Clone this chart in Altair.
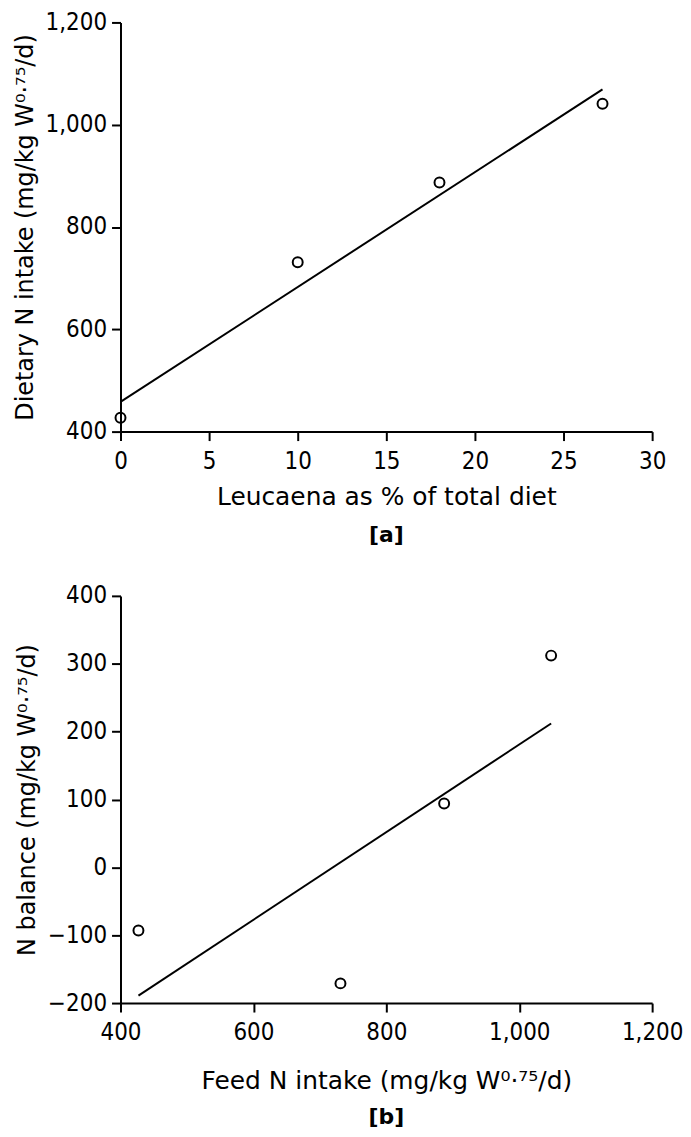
import altair as alt
import pandas as pd

# Panel (a): Leucaena % vs dietary N intake
leucaena_pct = [0, 10, 18, 27.2]
dietary_n = [427, 731, 887, 1041]
fit_a_x = [0, 27.2]
fit_a_y = [458, 1069]

# Panel (b): feed N intake vs N balance
feed_n = [427, 731, 887, 1048]
n_balance = [-93, -171, 94, 312]
fit_b_x = [427, 1048]
fit_b_y = [-189, 212]

pts_a = pd.DataFrame({"x": leucaena_pct, "y": dietary_n})
line_a = pd.DataFrame({"x": fit_a_x, "y": fit_a_y})
pts_b = pd.DataFrame({"x": feed_n, "y": n_balance})
line_b = pd.DataFrame({"x": fit_b_x, "y": fit_b_y})

TFONT = "DejaVu Sans"
LFONT = "Liberation Sans Narrow, DejaVu Sans Condensed, Liberation Sans"
SUP = "W\u2070\u00b7\u2077\u2075"

xa = alt.X("x:Q", scale=alt.Scale(domain=[0, 30], nice=False),
           axis=alt.Axis(title="Leucaena as % of total diet", values=[0, 5, 10, 15, 20, 25, 30],
                         format="d", grid=False, titlePadding=11, labelPadding=9, labelFlush=False))
ya = alt.Y("y:Q", scale=alt.Scale(domain=[400, 1200], nice=False, zero=False),
           axis=alt.Axis(title=f"Dietary N intake (mg/kg {SUP}/d)", values=[400, 600, 800, 1000, 1200],
                         format=",d", grid=False, titlePadding=8, titleFontSize=24, labelPadding=5))

panel_a = alt.layer(
    alt.Chart(line_a).mark_line(color="black", strokeWidth=2).encode(x=xa, y=ya),
    alt.Chart(pts_a).mark_point(shape="circle", filled=False, color="black", size=100, strokeWidth=2, opacity=1).encode(x="x:Q", y="y:Q"),
).properties(width=534, height=411,
             title=alt.TitleParams("[a]", orient="bottom", fontSize=22, font=TFONT, fontWeight="bold", offset=16))

xb = alt.X("x:Q", scale=alt.Scale(domain=[400, 1200], nice=False, zero=False),
           axis=alt.Axis(title=f"Feed N intake (mg/kg {SUP}/d)", values=[400, 600, 800, 1000, 1200],
                         format=",d", grid=False, titlePadding=24, labelPadding=9, labelFlush=False))
yb = alt.Y("y:Q", scale=alt.Scale(domain=[-200, 400], nice=False, zero=False),
           axis=alt.Axis(title=f"N balance (mg/kg {SUP}/d)", values=[-200, -100, 0, 100, 200, 300, 400],
                         format="d", grid=False, titlePadding=8, titleFontSize=24, labelPadding=5))

panel_b = alt.layer(
    alt.Chart(line_b).mark_line(color="black", strokeWidth=2).encode(x=xb, y=yb),
    alt.Chart(pts_b).mark_point(shape="circle", filled=False, color="black", size=100, strokeWidth=2, opacity=1).encode(x="x:Q", y="y:Q"),
).properties(width=534, height=409,
             title=alt.TitleParams("[b]", orient="bottom", fontSize=22, font=TFONT, fontWeight="bold", offset=13))

chart = alt.vconcat(panel_a, panel_b, spacing=38).properties(
    padding={"left": 5, "top": 0, "right": 0, "bottom": 0}
).configure_view(stroke=None).configure_axis(
    domainColor="black", domainWidth=2, tickColor="black", tickWidth=2, tickSize=9,
    labelFont=LFONT, labelFontSize=24, labelColor="black",
    titleFont=TFONT, titleFontSize=25, titleColor="black", titleFontWeight="normal",
).configure_title(color="black")

chart.save("out.html", embed_options={"renderer": "svg", "actions": False})
